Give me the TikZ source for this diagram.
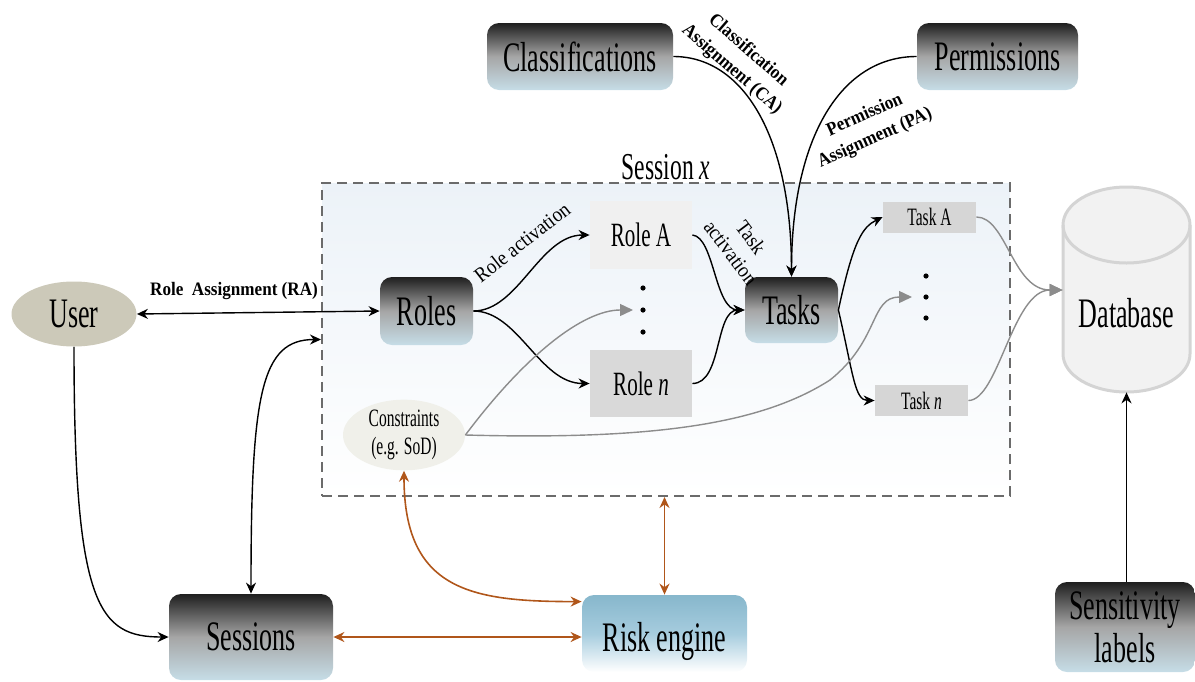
\documentclass[tikz,border=0pt]{standalone}
\usepackage{fontspec}
\setmainfont{Liberation Serif}[FakeStretch=0.62]
\newfontfamily\lblfont{Liberation Serif}[FakeStretch=0.9]
\usetikzlibrary{positioning,arrows.meta,shapes.geometric}
\definecolor{BoxBottom}{RGB}{198,221,231}
\definecolor{RiskTop}{RGB}{135,183,204}
\definecolor{RiskMid}{RGB}{166,204,222}
\definecolor{SessFill}{RGB}{236,242,248}
\definecolor{UserFill}{RGB}{204,201,185}
\definecolor{ConsFill}{RGB}{240,240,234}
\definecolor{RiskBrown}{RGB}{176,86,26}
\definecolor{FlowGray}{RGB}{140,140,140}
\newcommand{\bigtxt}{\fontsize{21}{21.5}\selectfont}
\newcommand{\sesstxt}{\fontsize{19}{20}\selectfont}
\newcommand{\midtxt}{\fontsize{17}{18}\selectfont}
\newcommand{\smltxt}{\fontsize{12.5}{14}\selectfont}
\newcommand{\lbltxt}{\lblfont\fontsize{10.5}{12.5}\selectfont}
\newcommand{\lblbold}{\lblfont\bfseries\fontsize{9.5}{12.5}\selectfont}

\begin{document}
\begin{tikzpicture}[x=0.5pt,y=-0.5pt,
grad/.style={rectangle,rounded corners=6pt,top color=black!88,bottom color=BoxBottom,middle color=black!35,
font=\bigtxt,inner sep=0pt,align=center},
role/.style={rectangle,inner sep=0pt,font=\midtxt,minimum width=51pt},
task/.style={rectangle,fill=black!16,inner sep=0pt,font=\smltxt,minimum width=46.5pt,minimum height=15.5pt},
sessbox/.style={rectangle,draw=black!58,dash pattern=on 5pt off 3pt,line width=1pt,top color=SessFill,bottom color=white,
minimum width=344pt,minimum height=156.5pt},
lbl/.style={font=\lbltxt,inner sep=0pt,align=center},
flow/.style={-{Stealth[length=5.5pt,width=5pt]},line width=0.7pt},
bflow/.style={{Stealth[length=5.5pt,width=5pt]}-{Stealth[length=5.5pt,width=5pt]},line width=0.7pt},
rflow/.style={{Stealth[length=5.5pt,width=5pt]}-{Stealth[length=5.5pt,width=5pt]},line width=0.8pt,color=RiskBrown},
gflow/.style={-{Triangle[length=6.5pt,width=6pt]},line width=0.7pt,color=FlowGray}
]
\useasboundingbox (0,0) rectangle (1195,681);
\node[sessbox] (sessx) at (666,339.5) {};
\node[font=\sesstxt] (sesslbl) at (666,167) {Session \textit{x}};
\node[grad,minimum width=93pt,minimum height=33.5pt] (class) at (580,56.5) {Classifications};
\node[grad,minimum width=80.5pt,minimum height=33.5pt] (perm) at (997.5,56.5) {Permissions};
\node[ellipse,fill=UserFill,minimum width=62.5pt,minimum height=32.5pt,inner sep=0pt,font=\bigtxt] (user) at (74,314) {User};
\node[grad,minimum width=46.5pt,minimum height=34pt] (roles) at (426.5,311) {Roles};
\node[role,fill=black!6,minimum height=34pt] (rolea) at (641,235) {Role A};
\node[role,fill=black!15,minimum height=33.5pt] (rolen) at (641,383.5) {Role \textit{n}};
\node[grad,minimum width=46.5pt,minimum height=33pt] (tasks) at (791.5,310) {Tasks};
\node[task] (taska) at (929.5,217) {Task A};
\node[task] (taskn) at (921.5,400.5) {Task \textit{n}};
\node[ellipse,fill=ConsFill,minimum width=61pt,minimum height=33pt,inner sep=0pt,font=\smltxt,align=center] (cons) at (404,435) {Constraints\\(e.g. SoD)};
\foreach \y in {288,310,332} \fill (643,\y) circle (1.3pt);
\foreach \y in {276,297,318} \fill (926,\y) circle (1.3pt);
\coordinate (rdots) at (633,310);
\coordinate (tdots) at (912,297);
\path[fill=black!5,draw=black!17,line width=1.5pt] (1063,225) -- (1063,354)
  arc[start angle=180,end angle=360,x radius=31.75pt,y radius=19pt] -- (1190,225)
  arc[start angle=0,end angle=180,x radius=31.75pt,y radius=19pt] -- cycle;
\draw[draw=black!17,line width=1.5pt] (1063,225) arc[start angle=180,end angle=360,x radius=31.75pt,y radius=19pt];
\node[minimum width=63.5pt,minimum height=79pt,inner sep=0pt,font=\bigtxt] (db) at (1126.5,313) {Database};
\node[grad,minimum width=82pt,minimum height=43pt] (sessions) at (251,637) {Sessions};
\node[rectangle,rounded corners=6pt,top color=RiskTop,bottom color=white,middle color=RiskMid,
minimum width=82.5pt,minimum height=38.5pt,inner sep=0pt,font=\bigtxt] (risk) at (664.5,633.5) {\raisebox{-4pt}[\height][\depth]{Risk engine}};
\node[grad,minimum width=70pt,minimum height=45pt] (sens) at (1125,627) {Sensitivity\\labels};
\node[lbl,font=\lblbold] (ralbl) at (234,291) {Role~ Assignment (RA)};
\node[lbl,font=\lblbold,rotate=-41] (calbl) at (740,60) {Classification\\Assignment (CA)};
\node[lbl,font=\lblbold,rotate=24] (palbl) at (870,127) {Permission\\Assignment (PA)};
\node[lbl,rotate=38] (rolbl) at (522,242) {Role activation};
\node[lbl,rotate=-53] (talbl) at (741,245) {Task\\activation};
\draw[bflow] (user.east) -- (roles.west);
\draw[bflow] (sessions.north) .. controls +(0,-200) and +(-60,0) .. (sessx.west);
\draw[flow] (user.south) .. controls +(0,260) and +(-70,0) .. (sessions.west);
\draw[flow] (class.east) .. controls +(70,0) and +(0,-140) .. (tasks.north);
\draw[flow] (perm.west) .. controls +(-75,0) and +(0,-140) .. (tasks.north);
\draw[flow] (roles.east) .. controls +(45,0) and +(-50,0) .. (rolea.west);
\draw[flow] (roles.east) .. controls +(45,0) and +(-50,0) .. (rolen.west);
\draw[flow] (rolea.east) .. controls +(22,2) and +(-30,0) .. (tasks.west);
\draw[flow] (rolen.east) .. controls +(30,0) and +(-30,0) .. (tasks.west);
\draw[flow] (tasks.east) .. controls +(15,-70) and +(-20,10) .. (taska.west);
\draw[flow] (tasks.east) .. controls +(15,65) and +(-20,0) .. (taskn.west);
\draw[gflow] (cons.east) .. controls +(60,-80) and +(-50,0) .. (rdots);
\draw[gflow] (cons.east) .. controls (650,440) and (760,425) .. (830,380) .. controls (880,340) and (870,297) .. (tdots);
\draw[gflow] (taska.east) .. controls +(30,0) and +(-50,0) .. ([yshift=11.5pt]db.west);
\draw[gflow] (taskn.east) .. controls +(30,0) and +(-50,0) .. ([yshift=11.5pt]db.west);
\draw[flow] (sens.north -| db.south) -- (db.south);
\draw[rflow] (cons.south) .. controls +(0,120) and +(-110,0) .. ([yshift=-3.5pt]risk.north west);
\draw[rflow] (sessions.east) -- (sessions.east -| risk.west);
\draw[rflow] (sessx.south -| risk.north) -- (risk.north);
\end{tikzpicture}
\end{document}
